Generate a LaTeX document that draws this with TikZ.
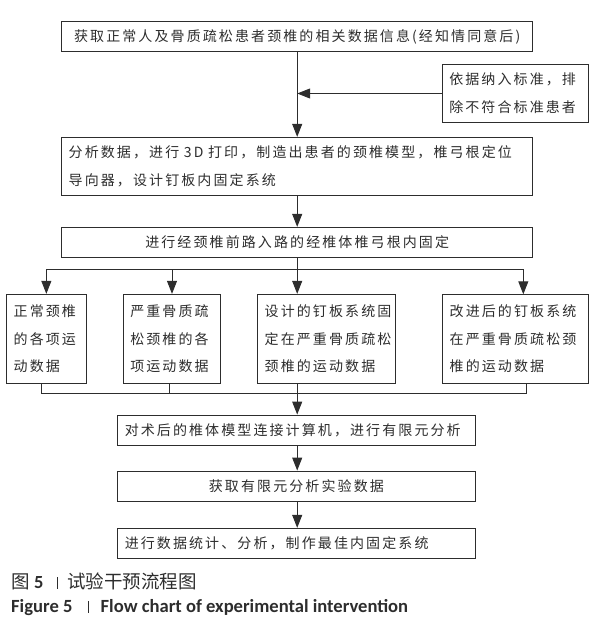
\documentclass[tikz,border=0pt]{standalone}
\usepackage{fontspec}
\usetikzlibrary{arrows.meta}
\newfontfamily\cjk[LetterSpace=15]{Noto Sans CJK SC}
\newfontfamily\cjkcap{Noto Sans CJK SC}
\newfontfamily\engcap{Carlito}
\definecolor{ink}{RGB}{45,45,45}
\tikzset{
  box/.style={draw=ink, line width=0.9pt, inner sep=0pt, text=ink,
    font=\cjk\fontsize{14}{27.7}\selectfont},
  lbox/.style={box, align=left, inner xsep=7pt},
  arr/.style={-{Triangle[length=13pt,width=10pt]}, line width=0.9pt, draw=ink},
  ln/.style={line width=0.9pt, draw=ink}
}
\begin{document}
\begin{tikzpicture}[x=1pt,y=-1pt]
\path[use as bounding box] (0,0) rectangle (605,623);

\node[box, minimum width=471pt, minimum height=30pt] (b1) at (297.2,36.7)
  {获取正常人及骨质疏松患者颈椎的相关数据信息(经知情同意后)};
\node[lbox, text width=132pt, minimum height=58.4pt] (s) at (515.3,93.5)
  {依据纳入标准，排\\除不符合标准患者};
\node[lbox, text width=457pt, minimum height=58.4pt] (b2) at (297.2,166.5)
  {分析数据，进行 3D 打印，制造出患者的颈椎模型，椎弓根定位\\导向器，设计钉板内固定系统};
\node[box, minimum width=471pt, minimum height=30pt] (b3) at (297.2,242.3)
  {进行经颈椎前路入路的经椎体椎弓根内固定};

\node[lbox, text width=65.3pt, minimum height=89pt] (A) at (46.35,338.8)
  {正常颈椎\\的各项运\\动数据};
\node[lbox, text width=83.4pt, minimum height=89pt] (B) at (172,338.8)
  {严重骨质疏\\松颈椎的各\\项运动数据};
\node[lbox, text width=123.3pt, minimum height=89pt] (C) at (326.35,338.8)
  {设计的钉板系统固\\定在严重骨质疏松\\颈椎的运动数据};
\node[lbox, text width=131.6pt, minimum height=89pt] (D) at (515.5,338.8)
  {改进后的钉板系统\\在严重骨质疏松颈\\椎的运动数据};

\node[lbox, text width=343.3pt, minimum height=30pt] (b5) at (296.4,430)
  {对术后的椎体模型连接计算机，进行有限元分析};
\node[box, minimum width=357.3pt, minimum height=30.7pt] (b6) at (296.4,486.35)
  {获取有限元分析实验数据};
\node[lbox, text width=343.3pt, minimum height=30pt] (b7) at (296.4,543.3)
  {进行数据统计、分析，制作最佳内固定系统};

% connectors
\draw[arr] (b1.south) -- (b2.north);
\draw[arr] (s.west) -- (s.west -| b1.south);
\draw[arr] (b2.south) -- (b3.north);

\coordinate (j) at (297.2,269);
\coordinate (dn) at (523.3,294.3);
\draw[ln] (b3.south) -- (j);
\draw[ln] (A.north |- j) -- (dn |- j);
\draw[arr] (A.north |- j) -- (A.north);
\draw[arr] (B.north |- j) -- (B.north);
\draw[arr] (j) -- (C.north -| j);
\draw[arr] (dn |- j) -- (dn);

\coordinate (m) at (297.2,393.3);
\coordinate (ao) at (41.7,383.3);
\coordinate (bo) at (169.3,383.3);
\coordinate (do) at (526,383.3);
\draw[ln] (ao) -- (ao |- m) -- (do |- m) -- (do);
\draw[ln] (bo) -- (bo |- m);
\draw[ln] (C.south -| m) -- (m);
\draw[arr] (m) -- (b5.north -| m);
\draw[arr] (b5.south -| m) -- (b6.north -| m);
\draw[arr] (b6.south -| m) -- (b7.north -| m);

% caption
\node[anchor=base west, inner sep=0pt, text=ink, font=\fontsize{18.5}{21}\selectfont] (capzh) at (11,588)
  {\cjkcap 图\hspace{4.5pt}{\engcap\bfseries 5}\hspace{13pt}\rule[-0.5pt]{0.7pt}{12pt}\hspace{10pt}试验干预流程图};
\node[anchor=base west, inner sep=0pt, text=ink, font=\fontsize{18.6}{21}\selectfont] (capen) at (11,612)
  {\engcap\bfseries Figure 5\hspace{15pt}\rule[-0.5pt]{0.7pt}{12pt}\hspace{12.5pt}Flow chart of experimental intervention};
\end{tikzpicture}
\end{document}
